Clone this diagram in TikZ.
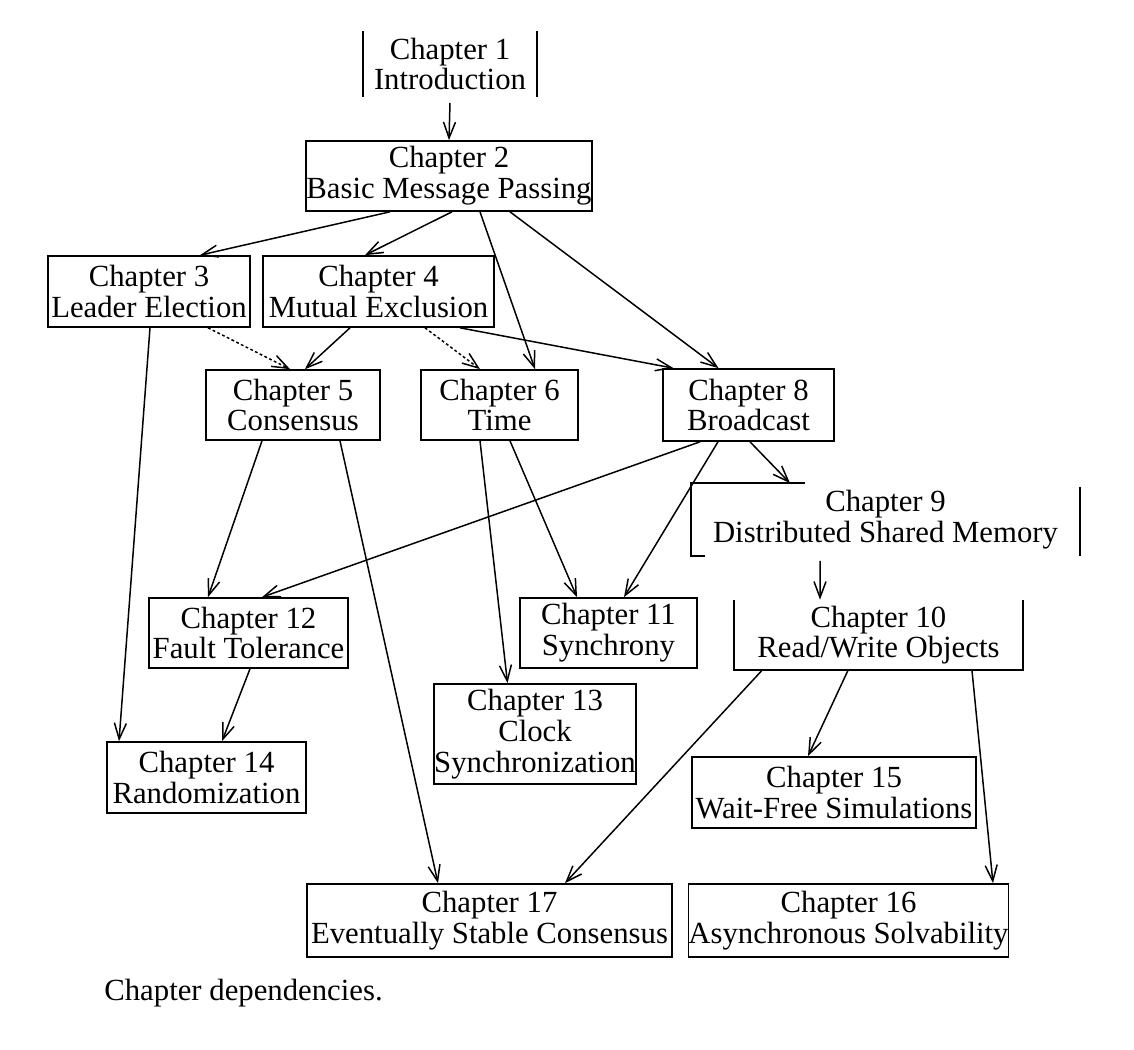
\documentclass[tikz,border=0pt]{standalone}
\usepackage{fontspec}
\setmainfont{Liberation Serif}
\usetikzlibrary{arrows.meta}

\tikzset{
  chapbox/.style={draw, rectangle, line width=0.95pt, inner sep=0pt, align=center,
    font=\fontsize{17.5}{17.5}\selectfont},
  openbox/.style={chapbox, draw=none},
  edge/.style={line width=0.95pt},
  arr/.style={-{Straight Barb[length=3.2mm, width=2.4mm]}, line width=0.85pt},
  dotarr/.style={arr, dash pattern=on 1.6pt off 1.4pt}
}

\begin{document}
\begin{tikzpicture}[x=0.02cm, y=-0.02cm]
    \useasboundingbox (0,0) rectangle (1134,1050);

    % Chapter 1
    \node[openbox, minimum width=3.44cm, minimum height=1.28cm] (ch1) at (450,64) {Chapter 1\\Introduction};
    \draw[edge] (ch1.north west) -- (ch1.south west);
    \draw[edge] (ch1.north east) -- (ch1.south east);

    % Chapter 2
    \node[chapbox, minimum width=5.72cm, minimum height=1.4cm] (ch2) at (449,176) {Chapter 2\\Basic Message Passing};

    % Chapters 3 and 4
    \node[chapbox, minimum width=4.04cm, minimum height=1.42cm] (ch3) at (149,291.5) {Chapter 3\\Leader Election};
    \node[chapbox, minimum width=4.62cm, minimum height=1.42cm] (ch4) at (378.5,291.5) {Chapter 4\\Mutual Exclusion};

    % Chapters 5, 6 and 8
    \node[chapbox, minimum width=3.48cm, minimum height=1.4cm] (ch5) at (293,405) {Chapter 5\\Consensus};
    \node[chapbox, minimum width=3.14cm, minimum height=1.4cm] (ch6) at (499.5,405) {Chapter 6\\Time};
    \node[chapbox, minimum width=3.42cm, minimum height=1.44cm] (ch8) at (748.5,405) {Chapter 8\\Broadcast};

    % Chapter 9
    \node[openbox, minimum width=7.74cm, minimum height=1.42cm] (ch9) at (885.5,519.5) {Chapter 9\\Distributed Shared Memory};
    \draw[edge] ([xshift=2.28cm]ch9.north west) -- (ch9.north west) -- (ch9.south west) -- ([xshift=0.28cm]ch9.south west);
    \draw[edge] ([yshift=-0.08cm]ch9.north east) -- (ch9.south east);

    % Chapter 10
    \node[openbox, minimum width=5.74cm, minimum height=1.38cm] (ch10) at (878.5,635) {Chapter 10\\Read/Write Objects};
    \draw[edge] (ch10.north west) -- (ch10.south west) -- (ch10.south east) -- (ch10.north east);

    % Chapters 11, 12 and 13
    \node[chapbox, minimum width=3.54cm, minimum height=1.4cm] (ch11) at (608.5,633) {Chapter 11\\Synchrony};
    \node[chapbox, minimum width=3.98cm, minimum height=1.4cm] (ch12) at (248.5,633) {Chapter 12\\Fault Tolerance};
    \node[chapbox, minimum width=4.02cm, minimum height=2.0cm] (ch13) at (535,734) {Chapter 13\\Clock\\Synchronization};

    % Chapters 14 and 15
    \node[chapbox, minimum width=3.98cm, minimum height=1.42cm] (ch14) at (206.5,777.5) {Chapter 14\\Randomization};
    \node[chapbox, minimum width=5.68cm, minimum height=1.42cm] (ch15) at (834,792.5) {Chapter 15\\Wait-Free Simulations};

    % Chapters 17 and 16
    \node[chapbox, minimum width=7.3cm, minimum height=1.46cm] (ch17) at (489.5,920.5) {Chapter 17\\Eventually Stable Consensus};
    \node[chapbox, minimum width=6.34cm, minimum height=1.46cm] (ch16) at (848.5,920.5) {Chapter 16\\Asynchronous Solvability};

    % Caption
    \node[anchor=base west, inner sep=0pt, font=\fontsize{17.5}{17.5}\selectfont] (caption) at (104,1001) {Chapter dependencies.};

    % Connections
    \draw[arr] ([yshift=-0.12cm]ch1.south) -- (ch2.north);
    \draw[arr] ([xshift=-1.18cm]ch2.south) -- ([xshift=1.02cm]ch3.north);
    \draw[arr] ([xshift=0.06cm]ch2.south) -- ([xshift=-0.27cm]ch4.north);
    \draw[arr] ([xshift=0.62cm]ch2.south) -- ([xshift=0.71cm]ch6.north);
    \draw[arr] ([xshift=1.22cm]ch2.south) -- ([xshift=-0.6cm]ch8.north);
    \draw[arr] ([xshift=0.02cm]ch3.south) -- ([xshift=-1.75cm]ch14.north);
    \draw[dotarr] ([xshift=1.18cm]ch3.south) -- ([xshift=-0.06cm]ch5.north);
    \draw[arr] ([xshift=-0.57cm]ch4.south) -- ([xshift=0.24cm]ch5.north);
    \draw[dotarr] ([xshift=0.93cm]ch4.south) -- ([xshift=-0.39cm]ch6.north);
    \draw[arr] ([xshift=1.63cm]ch4.south) -- ([xshift=-1.5cm]ch8.north);
    \draw[arr] ([xshift=-0.62cm]ch5.south) -- ([xshift=-0.81cm]ch12.north);
    \draw[arr] ([xshift=0.94cm]ch5.south) -- ([xshift=-1.03cm]ch17.north);
    \draw[arr] ([xshift=-0.39cm]ch6.south) -- ([xshift=-0.55cm]ch13.north);
    \draw[arr] ([xshift=0.21cm]ch6.south) -- ([xshift=-0.63cm]ch11.north);
    \draw[arr] ([xshift=-0.97cm]ch8.south) -- ([xshift=0.27cm]ch12.north);
    \draw[arr] ([xshift=-0.61cm]ch8.south) -- ([xshift=0.31cm]ch11.north);
    \draw[arr] ([xshift=0.03cm]ch8.south) -- ([xshift=-1.91cm]ch9.north);
    \draw[arr] ([xshift=-1.31cm, yshift=-0.1cm]ch9.south) -- ([xshift=-1.17cm]ch10.north);
    \draw[arr] ([xshift=-2.33cm]ch10.south) -- ([xshift=1.51cm]ch17.north);
    \draw[arr] ([xshift=-0.61cm]ch10.south) -- ([xshift=-0.52cm]ch15.north);
    \draw[arr] ([xshift=1.87cm]ch10.south) -- ([xshift=2.89cm]ch16.north);
    \draw[arr] ([xshift=0.03cm]ch12.south) -- ([xshift=0.31cm]ch14.north);
\end{tikzpicture}
\end{document}
